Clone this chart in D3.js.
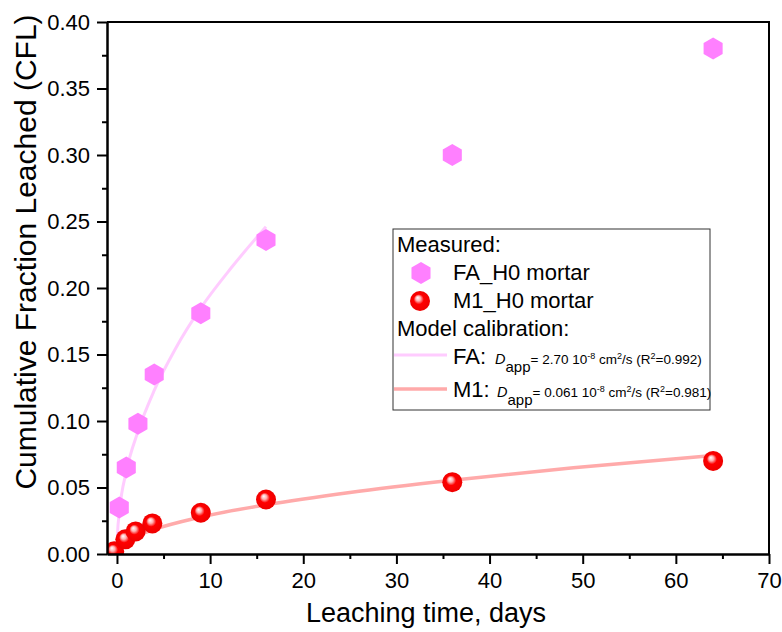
<!DOCTYPE html>
<html>
<head>
<meta charset="utf-8">
<script src="https://cdn.jsdelivr.net/npm/d3@7"></script>
<style>
  body { margin: 0; background: #fff; }
  svg { font-family: "Liberation Sans", Arial, sans-serif; }
</style>
</head>
<body>
<script>
var w = 782;
var h = 632;

var margin = { top: 22, right: 13, bottom: 78, left: 107 };
var width = w - margin.left - margin.right;
var height = h - margin.top - margin.bottom;

// measured points
var faDays = [0.25, 1, 2.25, 4, 9, 16, 36, 64];
var faCFL = [0.035, 0.065, 0.098, 0.135, 0.181, 0.236, 0.300, 0.380];
var m1Days = [-0.3, 0.9, 2, 3.8, 9, 16, 36, 64];
var m1CFL = [0.002, 0.011, 0.017, 0.023, 0.031, 0.041, 0.054, 0.070];

// model calibration curves
var faFitDays = [0, 0.0625, 0.25, 1, 2.25, 4, 6.25, 9, 12.25, 16];
var faFitCFL = [0, 0.0154, 0.031, 0.062, 0.092, 0.123, 0.154, 0.185, 0.215, 0.246];
var m1FitDays = [0, 0.25, 1, 2.25, 4, 9, 16, 25, 36, 49, 64];
var m1FitCFL = [0, 0.0046, 0.0093, 0.0139, 0.0185, 0.0278, 0.037, 0.0463, 0.0555, 0.0648, 0.074];

var xTicks = [0, 10, 20, 30, 40, 50, 60, 70];
var xMinor = [5, 15, 25, 35, 45, 55, 65];
var yTicks = [0, 0.05, 0.10, 0.15, 0.20, 0.25, 0.30, 0.35, 0.40];
var yMinor = [0.025, 0.075, 0.125, 0.175, 0.225, 0.275, 0.325, 0.375];

var x = d3.scaleLinear()
  .domain([-1.07, 70])
  .range([0, width]);

var y = d3.scaleLinear()
  .domain([0, 0.4])
  .range([height, 0]);

var svg = d3.select("body").append("svg")
  .attr("width", w)
  .attr("height", h);

var defs = svg.append("defs");
defs.append("clipPath")
  .attr("id", "plot")
  .append("rect")
  .attr("width", width)
  .attr("height", height);

// gradient for the red balls
var grad = defs.append("radialGradient")
  .attr("id", "ball")
  .attr("cx", "50%").attr("cy", "50%").attr("r", "50%")
  .attr("fx", "38%").attr("fy", "33%");
grad.append("stop").attr("offset", "0%").attr("stop-color", "#ffffff");
grad.append("stop").attr("offset", "25%").attr("stop-color", "#ffb0b0");
grad.append("stop").attr("offset", "50%").attr("stop-color", "#ff0000");
grad.append("stop").attr("offset", "100%").attr("stop-color", "#ee0000");

var chart = svg.append("g")
  .attr("transform", "translate(" + margin.left + "," + margin.top + ")");

var marks = chart.append("g").attr("clip-path", "url(#plot)");

// fit lines
var line = d3.line()
  .x(function (d) { return x(d[0]); })
  .y(function (d) { return y(d[1]); })
  .curve(d3.curveMonotoneX);

marks.append("path")
  .datum(d3.zip(faFitDays, faFitCFL))
  .attr("d", line)
  .attr("fill", "none")
  .attr("stroke", "#ffccff")
  .attr("stroke-width", 3);

marks.append("path")
  .datum(d3.zip(m1FitDays, m1FitCFL))
  .attr("d", line)
  .attr("fill", "none")
  .attr("stroke", "#ffaaaa")
  .attr("stroke-width", 3.5);

// hexagons
var hexR = 11;
function hexPath(r) {
  var pts = d3.range(6).map(function (i) {
    var a = Math.PI / 3 * i - Math.PI / 2;
    return [r * Math.cos(a), r * Math.sin(a)];
  });
  return "M" + pts.join("L") + "Z";
}

marks.selectAll(".hex")
  .data(d3.zip(faDays, faCFL))
  .enter()
  .append("path")
  .classed("hex", true)
  .attr("d", hexPath(hexR))
  .attr("transform", function (d) {
    return "translate(" + x(d[0]) + "," + y(d[1]) + ")";
  })
  .attr("fill", "#ff80ff");

marks.selectAll(".ball")
  .data(d3.zip(m1Days, m1CFL))
  .enter()
  .append("circle")
  .classed("ball", true)
  .attr("cx", function (d) { return x(d[0]); })
  .attr("cy", function (d) { return y(d[1]); })
  .attr("r", 10)
  .attr("fill", "url(#ball)");

// frame (top + right)
chart.append("path")
  .attr("d", "M0,0H" + width + "V" + height)
  .attr("fill", "none")
  .attr("stroke", "#000")
  .attr("stroke-width", 2);

// axes
chart.append("g")
  .attr("transform", "translate(0," + height + ")")
  .call(d3.axisBottom(x).tickValues(xTicks).tickSize(10).tickPadding(8).tickSizeOuter(0));
chart.append("g")
  .attr("transform", "translate(0," + height + ")")
  .call(d3.axisBottom(x).tickValues(xMinor).tickSize(5).tickFormat("").tickSizeOuter(0));

chart.append("g")
  .call(d3.axisLeft(y).tickValues(yTicks).tickSize(10).tickPadding(7).tickSizeOuter(0).tickFormat(d3.format(".2f")));
chart.append("g")
  .call(d3.axisLeft(y).tickValues(yMinor).tickSize(5).tickFormat("").tickSizeOuter(0));

chart.selectAll(".domain").attr("stroke-width", 2);
chart.selectAll(".tick line").attr("stroke-width", 2);
chart.selectAll(".tick text")
  .attr("font-size", 22)
  .attr("font-family", "Liberation Sans, Arial, sans-serif")
  .attr("fill", "#000");

// axis titles
svg.append("text")
  .attr("x", 426)
  .attr("y", 622)
  .attr("text-anchor", "middle")
  .attr("font-size", 27)
  .text("Leaching time, days");

svg.append("text")
  .attr("transform", "translate(36,252) rotate(-90)")
  .attr("text-anchor", "middle")
  .attr("font-size", 30)
  .text("Cumulative Fraction Leached (CFL)");

// legend
var lg = svg.append("g");
lg.append("rect")
  .attr("x", 393).attr("y", 229)
  .attr("width", 317).attr("height", 181)
  .attr("fill", "#fff")
  .attr("stroke", "#333")
  .attr("stroke-width", 1);

lg.append("text").attr("x", 397).attr("y", 252).attr("font-size", 22).text("Measured:");
lg.append("path")
  .attr("d", hexPath(hexR))
  .attr("transform", "translate(421,273)")
  .attr("fill", "#ff80ff");
lg.append("text").attr("x", 453).attr("y", 280).attr("font-size", 22).text("FA_H0 mortar");
lg.append("circle")
  .attr("cx", 420).attr("cy", 301).attr("r", 10)
  .attr("fill", "url(#ball)");
lg.append("text").attr("x", 453).attr("y", 308).attr("font-size", 22).text("M1_H0 mortar");
lg.append("text").attr("x", 397).attr("y", 336).attr("font-size", 22).text("Model calibration:");

lg.append("line")
  .attr("x1", 394).attr("x2", 447).attr("y1", 355).attr("y2", 355)
  .attr("stroke", "#ffccff").attr("stroke-width", 3);
lg.append("line")
  .attr("x1", 394).attr("x2", 447).attr("y1", 389).attr("y2", 389)
  .attr("stroke", "#ffaaaa").attr("stroke-width", 3.5);

function calib(yy, label, dval, r2) {
  lg.append("text").attr("x", 453).attr("y", yy).attr("font-size", 22).text(label);
  var t = lg.append("text")
    .attr("x", label === "FA:" ? 495 : 497)
    .attr("y", yy)
    .attr("font-size", 13.5);
  t.append("tspan").attr("font-style", "italic").attr("font-size", 14.5).text("D");
  t.append("tspan").attr("dy", 8).attr("font-size", 15).text("app");
  t.append("tspan").attr("dy", -8).text("= " + dval + " 10");
  t.append("tspan").attr("dy", -5).attr("font-size", 9).text("-8");
  t.append("tspan").attr("dy", 5).text(" cm");
  t.append("tspan").attr("dy", -5).attr("font-size", 9).text("2");
  t.append("tspan").attr("dy", 5).text("/s (R");
  t.append("tspan").attr("dy", -5).attr("font-size", 9).text("2");
  t.append("tspan").attr("dy", 5).text("=" + r2 + ")");
}
calib(364, "FA:", "2.70", "0.992");
calib(397, "M1:", "0.061", "0.981");
</script>
</body>
</html>
